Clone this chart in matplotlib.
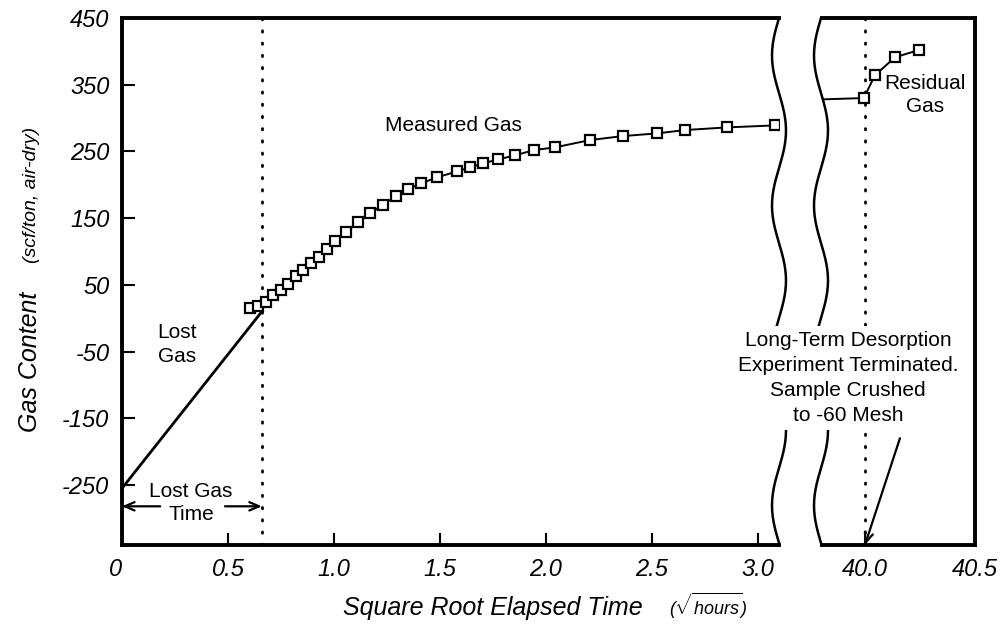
import matplotlib.pyplot as plt
from matplotlib.lines import Line2D
import numpy as np

plt.rcParams['font.family'] = ['Liberation Sans', 'DejaVu Sans']
plt.rcParams['mathtext.fontset'] = 'custom'
plt.rcParams['mathtext.it'] = 'Liberation Sans:italic'
plt.rcParams['mathtext.rm'] = 'Liberation Sans'

# measured desorption, left panel (sqrt hours, scf/ton)
sqrt_time = [0.604, 0.642, 0.679, 0.712, 0.750, 0.783, 0.821, 0.854, 0.892, 0.929,
             0.967, 1.005, 1.057, 1.113, 1.170, 1.231, 1.292, 1.349, 1.410, 1.486,
             1.580, 1.642, 1.703, 1.774, 1.854, 1.943, 2.042, 2.208, 2.363, 2.524,
             2.656, 2.854, 3.080]
gas_content = [15, 18, 24, 35, 43, 52, 63, 72, 82, 91,
               103, 115, 129, 144, 157, 170, 183, 193, 202, 211,
               220, 226, 232, 238, 244, 252, 256, 267, 273, 277,
               282, 286, 289]

# lost gas extrapolation
lost_x = [0.0, 0.66]
lost_y = [-255, 10]
lost_gas_time = 0.66

# residual gas after crushing, right panel
resid_x = [39.805, 39.995, 40.045, 40.136, 40.245]
resid_y = [328, 330, 364, 391, 402]
crush_time = 40.0

left_ticks = [0, 0.5, 1.0, 1.5, 2.0, 2.5, 3.0]
left_labels = ['0', '0.5', '1.0', '1.5', '2.0', '2.5', '3.0']
right_ticks = [40.0, 40.5]
right_labels = ['40.0', '40.5']
y_ticks = [-250, -150, -50, 50, 150, 250, 350, 450]

W, H = 1005, 628
fig = plt.figure(figsize=(W / 100, H / 100), dpi=100)
ax1 = fig.add_axes([122 / W, 1 - 545 / H, 657 / W, 527 / H])
ax2 = fig.add_axes([822 / W, 1 - 545 / H, 153 / W, 527 / H])

dots = (0, (0.5, 3.9))
marker_kw = dict(marker='s', markersize=7.5, mfc='white', mec='black', mew=1.6)

ax1.plot(lost_x, lost_y, color='black', lw=2, zorder=3)
ax1.plot(sqrt_time, gas_content, color='black', lw=1.4, zorder=4, **marker_kw)
ax1.axvline(lost_gas_time, color='black', lw=2, ls=dots, dash_capstyle='round', zorder=2)

ax2.plot(resid_x, resid_y, color='black', lw=1.4, zorder=4, markevery=[1, 2, 3, 4], **marker_kw)
ax2.axvline(crush_time, color='black', lw=2, ls=dots, dash_capstyle='round', zorder=2)

ax1.set_xlim(0, 3.1)
ax2.set_xlim(39.805, 40.5)
for ax in (ax1, ax2):
    ax.set_ylim(-340, 450)
    for s in ax.spines.values():
        s.set_linewidth(2.8)
    ax.tick_params(direction='in', length=9, width=1.5, labelsize=17, pad=9)
ax1.spines['right'].set_visible(False)
ax2.spines['left'].set_visible(False)

ax1.set_xticks(left_ticks, left_labels)
ax1.set_yticks(y_ticks, [str(v) for v in y_ticks])
ax2.set_xticks(right_ticks, right_labels)
ax2.set_yticks([])
for ax in (ax1, ax2):
    for lab in ax.get_xticklabels() + ax.get_yticklabels():
        lab.set_style('italic')
ax1.get_xticklabels()[0].set_ha('right')

# wavy break lines (figure pixels)
yy = np.linspace(18, 545, 200)
dx = -7 * np.sin(2 * np.pi * (yy - 18) / 150)
for xc in (779, 821):
    fig.add_artist(Line2D((xc + dx) / W, 1 - yy / H, transform=fig.transFigure,
                          color='black', lw=1.8, zorder=2))

ax1.text(1.566, 289.5, 'Measured Gas', ha='center', va='center', fontsize=15)
ax1.text(0.26, -39, 'Lost\nGas', ha='center', va='center', fontsize=15, linespacing=1.36)
ax1.text(0.325, -277.5, 'Lost Gas\nTime', ha='center', va='center', fontsize=15,
         linespacing=1.27)
arrow_kw = dict(arrowstyle='->,head_length=0.7,head_width=0.3', lw=1.6,
                color='black', shrinkA=0, shrinkB=0)
ax1.annotate('', xy=(0, -282), xytext=(0.18, -282), arrowprops=arrow_kw)
ax1.annotate('', xy=(lost_gas_time, -282), xytext=(0.486, -282), arrowprops=arrow_kw)

ax2.text(40.273, 334.5, 'Residual\nGas', ha='center', va='center', fontsize=15,
         linespacing=1.26)
ax2.annotate('', xy=(crush_time, -340), xytext=(40.159, -180), arrowprops=arrow_kw,
             annotation_clip=False)

fig.text(848 / W, 1 - 378 / H,
         'Long-Term Desorption\nExperiment Terminated.\nSample Crushed\nto -60 Mesh',
         ha='center', va='center', fontsize=15, linespacing=1.42, zorder=5,
         bbox=dict(facecolor='white', edgecolor='none', pad=3))

fig.text(30 / W, 1 - 362 / H, 'Gas Content', rotation=90, ha='center', va='center',
         fontsize=18, style='italic')
fig.text(32 / W, 1 - 195 / H, '(scf/ton, air-dry)', rotation=90, ha='center',
         va='center', fontsize=14, style='italic')
fig.text(493 / W, 1 - 608 / H, 'Square Root Elapsed Time', ha='center', va='center',
         fontsize=18, style='italic')
fig.text(708 / W, 1 - 606 / H, r'($\sqrt{\mathit{hours}}$)', ha='center', va='center',
         fontsize=13, style='italic')

fig.savefig('out.png', dpi=100)
